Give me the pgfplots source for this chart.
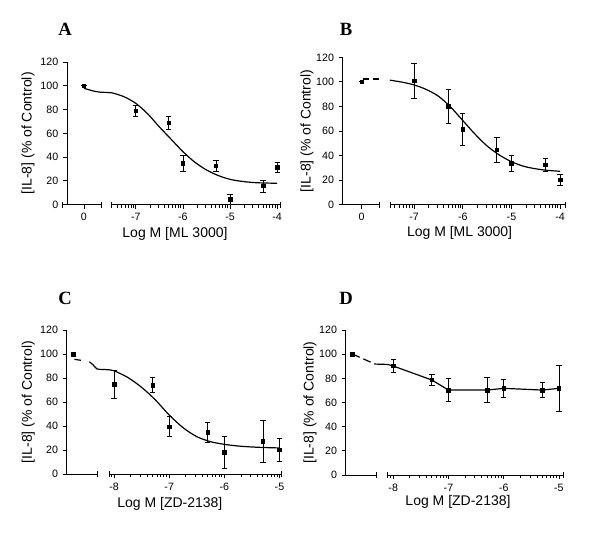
\documentclass[border=0pt]{standalone}
\usepackage{fontspec}
\setmainfont{Liberation Sans}
\newfontfamily\lettfont{Liberation Serif}
\usepackage{pgfplots}
\pgfplotsset{compat=1.18}

\pgfplotsset{
  panel/.style={
    scale only axis, clip=false,
    axis x line=bottom, axis y line=left,
    axis line style={-, line width=0.6pt},
    x axis line style={draw=none},
    ymin=0, ymax=120, ytick={0,20,...,120},
    tick align=outside,
    major tick length=3pt, minor tick length=2.2pt,
    every tick/.style={black, line width=0.6pt},
    tick label style={font=\fontsize{8}{9}\selectfont},
    label style={font=\fontsize{10.5}{12}\selectfont},
    /pgf/number format/assume math mode=true,
    ylabel={[IL-8] (\% of Control)},
  },
  seg/.style={black, line width=0.6pt, mark=|, mark size=2.2pt,
    mark options={line width=0.6pt}},
  pts/.style={black, only marks, mark=square*, mark size=1.3pt,
    error bars/.cd, y dir=both, y explicit,
    error bar style={line width=0.6pt},
    error mark options={rotate=90, mark size=2pt, line width=0.6pt}},
  fit/.style={black, line width=0.9pt, smooth, no marks},
}

\begin{document}
\begin{tikzpicture}
\useasboundingbox (0,0) rectangle (450pt,402pt);

% ---------------- A
\begin{axis}[panel, at={(50.25pt,248.5pt)}, anchor=south west,
  width=159.75pt, height=107pt,
  xmin=-8.46, xmax=-3.94,
  xtick={-8.1,-7,-6,-5,-4}, xticklabels={0,-7,-6,-5,-4},
  minor xtick={-7.398,-7.301,-7.222,-7.155,-7.097,-7.046,
    -6.699,-6.523,-6.398,-6.301,-6.222,-6.155,-6.097,-6.046,
    -5.699,-5.523,-5.398,-5.301,-5.222,-5.155,-5.097,-5.046,
    -4.699,-4.523,-4.398,-4.301,-4.222,-4.155,-4.097,-4.046},
  xlabel={Log M [ML 3000]},
  xlabel style={at={(axis description cs:0.507,-0.207)}, anchor=center},
  ylabel style={at={(axis description cs:-0.183,0.5)}, anchor=center},
]
\addplot[seg] coordinates {(-8.55,0) (-7.74,0)};
\addplot[seg] coordinates {(-7.51,0) (-3.94,0)};
\addplot[fit] coordinates {
  (-8.1,97.9) (-7.9,95.6) (-7.75,94.6) (-7.6,94.4) (-7.5,94)
  (-7.25,90.8) (-7,85.2) (-6.75,76.5) (-6.5,65.4) (-6.25,55)
  (-6,44.6) (-5.75,35.8) (-5.5,29.2) (-5.25,24.5) (-5,21.3)
  (-4.75,19.6) (-4.5,18.6) (-4.25,18.2) (-4,18)};
\addplot[pts] coordinates {
  (-8.1,100) +- (0,0)
  (-7,79) +- (0,4.5)
  (-6.3,69) +- (0,5.6)
  (-6,34.8) +- (0,7)
  (-5.3,32.8) +- (0,4.4)
  (-5,4.5) +- (0,4.4)
  (-4.3,15.7) +- (0,5)
  (-4,31.4) +- (0,4)};
\end{axis}

% ---------------- B
\begin{axis}[panel, at={(257pt,248.5pt)}, anchor=south west,
  width=166.7pt, height=110.5pt,
  xmin=-8.47, xmax=-3.9,
  xtick={-8.08,-7,-6,-5,-4}, xticklabels={0,-7,-6,-5,-4},
  minor xtick={-7.398,-7.301,-7.222,-7.155,-7.097,-7.046,
    -6.699,-6.523,-6.398,-6.301,-6.222,-6.155,-6.097,-6.046,
    -5.699,-5.523,-5.398,-5.301,-5.222,-5.155,-5.097,-5.046,
    -4.699,-4.523,-4.398,-4.301,-4.222,-4.155,-4.097,-4.046},
  xlabel={Log M [ML 3000]},
  xlabel style={at={(axis description cs:0.526,-0.19)}, anchor=center},
  ylabel style={at={(axis description cs:-0.16,0.5)}, anchor=center},
]
\addplot[black, line width=0.6pt, no marks] coordinates {(-8.47,0) (-7.72,0)};
\addplot[seg] coordinates {(-7.72,0) (-7.72,0)};
\addplot[seg] coordinates {(-7.48,0) (-3.9,0)};
\addplot[fit, dash pattern=on 5pt off 2.5pt] coordinates {
  (-8.06,102.4) (-7.74,102.4)};
\addplot[fit] coordinates {
  (-7.5,101.4) (-7.25,99.8) (-7,97.5) (-6.75,93.8) (-6.5,88.3)
  (-6.25,79.5) (-6,68.5) (-5.75,57.5) (-5.5,47.8) (-5.25,40.5)
  (-5,35) (-4.75,31.3) (-4.5,29.2) (-4.25,27.9) (-4,27.2)};
\addplot[pts] coordinates {
  (-8.08,100) +- (0,0)
  (-7,101) +- (0,14.3)
  (-6.3,80) +- (0,14.2)
  (-6,61.4) +- (0,13.3)
  (-5.3,44.6) +- (0,10.5)
  (-5,33.7) +- (0,6.2)
  (-4.3,32.3) +- (0,5.5)
  (-4,20.1) +- (0,4.6)};
\end{axis}

% ---------------- C
\begin{axis}[panel, at={(50pt,46.3pt)}, anchor=south west,
  width=161.25pt, height=108.2pt,
  xmin=-8.86, xmax=-4.96,
  xtick={-8,-7,-6,-5}, xticklabels={-8,-7,-6,-5},
  minor xtick={-8.046,
    -7.699,-7.523,-7.398,-7.301,-7.222,-7.155,-7.097,-7.046,
    -6.699,-6.523,-6.398,-6.301,-6.222,-6.155,-6.097,-6.046,
    -5.699,-5.523,-5.398,-5.301,-5.222,-5.155,-5.097,-5.046},
  xlabel={Log M [ZD-2138]},
  xlabel style={at={(axis description cs:0.48,-0.208)}, anchor=center},
  ylabel style={at={(axis description cs:-0.179,0.5)}, anchor=center},
]
\addplot[black, line width=0.6pt, no marks] coordinates {(-8.86,0) (-8.30,0)};
\addplot[seg] coordinates {(-8.30,0) (-8.30,0)};
\addplot[seg] coordinates {(-8.09,0) (-4.96,0)};
\addplot[fit] coordinates {(-8.72,95.6) (-8.6,94.8)};
\addplot[fit] coordinates {
  (-8.45,93.6) (-8.38,91) (-8.31,87.6) (-8.2,87.2) (-8.07,86.8)
  (-8,86.1) (-7.75,80.5) (-7.5,72.3) (-7.25,61.8) (-7,49.3)
  (-6.75,38.8) (-6.5,31.3) (-6.25,27.1) (-6,24.9) (-5.75,23.5)
  (-5.5,22.7) (-5.25,22.2) (-5,21.9)};
\addplot[pts] coordinates {
  (-8.74,100) +- (0,0)
  (-8,75) +- (0,11.8)
  (-7.3,74.2) +- (0,6.5)
  (-7,39.5) +- (0,8.3)
  (-6.3,34.9) +- (0,8.5)
  (-6,18.2) +- (0,13.1)
  (-5.3,27.4) +- (0,17.3)
  (-5,20.2) +- (0,9.5)};
\end{axis}

% ---------------- D
\begin{axis}[panel, at={(259.3pt,45.75pt)}, anchor=south west,
  width=163.2pt, height=108.75pt,
  xmin=-8.86, xmax=-4.92,
  xtick={-8,-7,-6,-5}, xticklabels={-8,-7,-6,-5},
  minor xtick={-8.046,
    -7.699,-7.523,-7.398,-7.301,-7.222,-7.155,-7.097,-7.046,
    -6.699,-6.523,-6.398,-6.301,-6.222,-6.155,-6.097,-6.046,
    -5.699,-5.523,-5.398,-5.301,-5.222,-5.155,-5.097,-5.046},
  xlabel={Log M [ZD-2138]},
  xlabel style={at={(axis description cs:0.516,-0.184)}, anchor=center},
  ylabel style={at={(axis description cs:-0.164,0.5)}, anchor=center},
]
\addplot[black, line width=0.6pt, no marks] coordinates {(-8.86,0) (-8.30,0)};
\addplot[seg] coordinates {(-8.30,0) (-8.30,0)};
\addplot[seg] coordinates {(-8.11,0) (-4.92,0)};
\addplot[black, line width=0.9pt, no marks, dash pattern=on 6pt off 3pt] coordinates {
  (-8.74,100.1) (-8.33,91.8)};
\addplot[black, line width=0.9pt, no marks] coordinates {
  (-8.33,91.8) (-8.1,91.5) (-8,90.2) (-7.3,78.6) (-7,70.3)
  (-6.3,70.3) (-6,71.7) (-5.3,70.3) (-5,71.7)};
\addplot[pts] coordinates {
  (-8.74,100.1) +- (0,0)
  (-8,90.2) +- (0,5.1)
  (-7.3,78.6) +- (0,4.4)
  (-7,70.3) +- (0,9.4)
  (-6.3,70.3) +- (0,10.2)
  (-6,71.7) +- (0,7.7)
  (-5.3,70.3) +- (0,6.1)
  (-5,71.7) +- (0,18.9)};
\end{axis}

\node[font=\lettfont\bfseries\fontsize{14}{16}\selectfont] at (48.75pt,380.25pt) {A};
\node[font=\lettfont\bfseries\fontsize{14}{16}\selectfont] at (259.5pt,380.25pt) {B};
\node[font=\lettfont\bfseries\fontsize{14}{16}\selectfont] at (48.75pt,178.5pt) {C};
\node[font=\lettfont\bfseries\fontsize{14}{16}\selectfont] at (259.5pt,178.5pt) {D};
\end{tikzpicture}
\end{document}
